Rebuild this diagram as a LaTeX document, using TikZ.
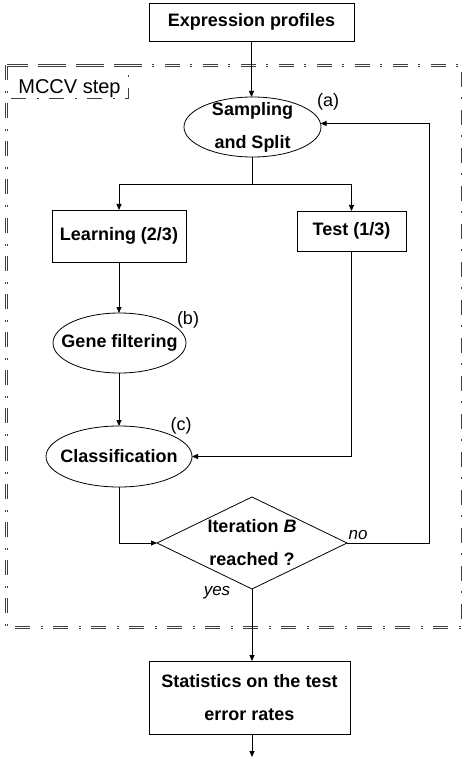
\documentclass[tikz,border=0pt]{standalone}
\usepackage{fontspec}
\setmainfont{Liberation Sans}
\usetikzlibrary{shapes.geometric,arrows.meta}
\begin{document}
\begin{tikzpicture}[x=1pt,y=-1pt,
  every node/.style={inner sep=0pt, outer sep=0pt},
  boxnode/.style={draw, line width=0.8pt, rectangle, font=\fontsize{18}{33}\selectfont\bfseries, align=center},
  ellnode/.style={draw, line width=0.8pt, ellipse},
  dianode/.style={draw, line width=0.8pt, diamond},
  txt/.style={font=\fontsize{18}{33}\selectfont\bfseries, align=center},
  tag/.style={font=\fontsize{18}{20}\selectfont},
  yn/.style={font=\fontsize{17}{20}\selectfont\itshape},
  conn/.style={line width=0.8pt},
  arr/.style={line width=0.8pt, -{Triangle[length=6pt,width=5pt]}},
  mccv/.style={line width=0.6pt, double, double distance=0.9pt, draw=black!75, dash pattern=on 15pt off 11pt on 2pt off 10pt}
]
\useasboundingbox (0,0) rectangle (463,759);

% MCCV frame
\draw[mccv] (6.5,65.5) rectangle (462,627.5);
\draw[mccv] (6.5,65.5) rectangle (129,99);
\node[font=\fontsize{20}{22}\selectfont, anchor=base] (mccvlab) at (69.5,94) {MCCV step};

% nodes
\node[boxnode, minimum width=205, minimum height=38] (expr) at (251.5,22) {Expression profiles};
\node[ellnode, minimum width=137, minimum height=60] (samp) at (252.5,127) {};
\node[txt] (samptxt) at (samp.center) {Sampling\\and Split};
\node[tag] (ta) at (328,102) {(a)};

\node[boxnode, minimum width=134, minimum height=52] (learn) at (119,236) {Learning (2/3)};
\node[boxnode, minimum width=109, minimum height=40] (test) at (351.5,231) {Test (1/3)};

\node[ellnode, minimum width=133, minimum height=60] (gene) at (119.5,343) {};
\node[txt] (genetxt) at (gene.center) {Gene filtering};
\node[tag] (tb) at (188,320) {(b)};

\node[ellnode, minimum width=146, minimum height=61] (class) at (119,456.5) {};
\node[txt] (classtxt) at (class.center) {Classification};
\node[tag] (tc) at (181,426) {(c)};

\node[dianode, minimum width=190, minimum height=92, aspect=2.065] (iter) at (252,543) {};
\node[txt] (itertxt) at (iter.center) {Iteration \textit{B}\\reached ?};
\node[yn] (no) at (358,535) {no};
\node[yn] (yes) at (217,593) {yes};

\node[boxnode, minimum width=201, minimum height=73] (stats) at (249.5,697.5) {Statistics on the test\\error rates};

% connectors
\draw[arr] (expr.south) -- (expr.south |- samp.north);
\coordinate (split) at (252.5,184);
\draw[conn] (samp.south) -- (split);
\draw[arr] (split) -| (learn.north);
\draw[arr] (split) -| (test.north);
\draw[arr] (learn.south) -- (learn.south |- gene.north);
\draw[arr] (gene.south -| class.north) -- (class.north);
\draw[arr] (test.south) |- (class.east);
\draw[arr] (class.south) |- (iter.west);
\coordinate (fbx) at (429,0);
\coordinate (fb) at (samp.3.5 -| fbx);
\draw[arr] (iter.east) -| (fb) -- (samp.3.5);
\draw[arr] (iter.south) -- (iter.south |- stats.north);
\coordinate (out) at (252,757);
\draw[arr] (out |- stats.south) -- (out);
\end{tikzpicture}
\end{document}
